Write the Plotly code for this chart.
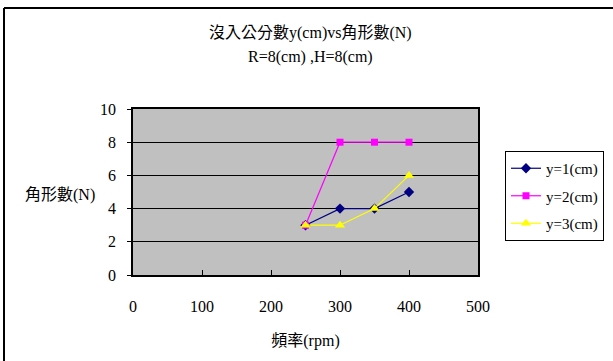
import plotly.graph_objects as go

rpm = [250, 300, 350, 400]
y1 = [3, 4, 4, 5]
y2 = [3, 8, 8, 8]
y3 = [3, 3, 4, 6]
names = ["y=1(cm)", "y=2(cm)", "y=3(cm)"]
x_ticks = [0, 100, 200, 300, 400, 500]
y_ticks = [0, 2, 4, 6, 8, 10]
title_lines = ["沒入公分數y(cm)vs角形數(N)", "R=8(cm) ,H=8(cm)"]

FONT = '"Liberation Serif", "Noto Sans CJK TC", serif'

fig = go.Figure()
fig.add_trace(go.Scatter(x=rpm, y=y1, name=names[0], mode="lines+markers", legendgroup="a",
                         line=dict(color="#000080", width=1.2),
                         marker=dict(symbol="diamond", size=8, color="#000080")))
fig.add_trace(go.Scatter(x=rpm, y=y2, name=names[1], mode="lines+markers", legendgroup="b",
                         line=dict(color="#FF00FF", width=1.2),
                         marker=dict(symbol="square", size=7, color="#FF00FF")))
fig.add_trace(go.Scatter(x=rpm, y=y3, name=names[2], mode="lines+markers", legendgroup="c",
                         line=dict(color="#FFFF00", width=1.2),
                         marker=dict(symbol="triangle-up", size=9, color="#FFFF00")))

tickfont = dict(family=FONT, size=16, color="black")

fig.update_layout(
    width=613, height=361,
    margin=dict(l=133, r=135, t=109, b=86, autoexpand=False),
    paper_bgcolor="white", plot_bgcolor="#C0C0C0",
    font=dict(family=FONT, size=16, color="black"),
    xaxis=dict(range=[0, 500], tickvals=x_ticks, showgrid=False, zeroline=False,
               showline=True, linecolor="black", linewidth=1.5, mirror=True,
               ticks="inside", ticklen=5, tickcolor="black", tickfont=tickfont,
               ticklabelstandoff=16,
               title=dict(text="頻率(rpm)", standoff=21, font=dict(family=FONT, size=16))),
    yaxis=dict(range=[0, 10], tickvals=y_ticks, showgrid=True, gridcolor="black",
               gridwidth=1, zeroline=False,
               showline=True, linecolor="black", linewidth=1.5, mirror=True,
               ticks="outside", ticklen=4, tickcolor="black", tickfont=tickfont,
               ticklabelstandoff=8),
    legend=dict(x=(505 - 133) / 345, y=(275 - 151) / 166, xanchor="left", yanchor="top",
                bgcolor="white", bordercolor="black", borderwidth=1,
                font=dict(family=FONT, size=15), tracegroupgap=5,
                itemwidth=30),
    showlegend=True,
)

for text, ypx in zip(title_lines, [33, 57]):
    fig.add_annotation(text=text, xref="paper", yref="paper",
                       x=(310 - 133) / 345, y=(275 - ypx) / 166,
                       xanchor="center", yanchor="middle", showarrow=False,
                       font=dict(family=FONT, size=16))

fig.add_annotation(text="角形數(N)", xref="paper", yref="paper",
                   x=(60 - 133) / 345, y=(275 - 195) / 166,
                   xanchor="center", yanchor="middle", showarrow=False,
                   font=dict(family=FONT, size=16))

# outer chart border (top and left)
fig.add_shape(type="line", xref="paper", yref="paper",
              x0=(4 - 133) / 345, x1=(613 - 133) / 345,
              y0=(275 - 8) / 166, y1=(275 - 8) / 166,
              line=dict(color="black", width=2))
fig.add_shape(type="line", xref="paper", yref="paper",
              x0=(4 - 133) / 345, x1=(4 - 133) / 345,
              y0=(275 - 8) / 166, y1=(275 - 362) / 166,
              line=dict(color="black", width=2))

fig.write_html("out.html")
